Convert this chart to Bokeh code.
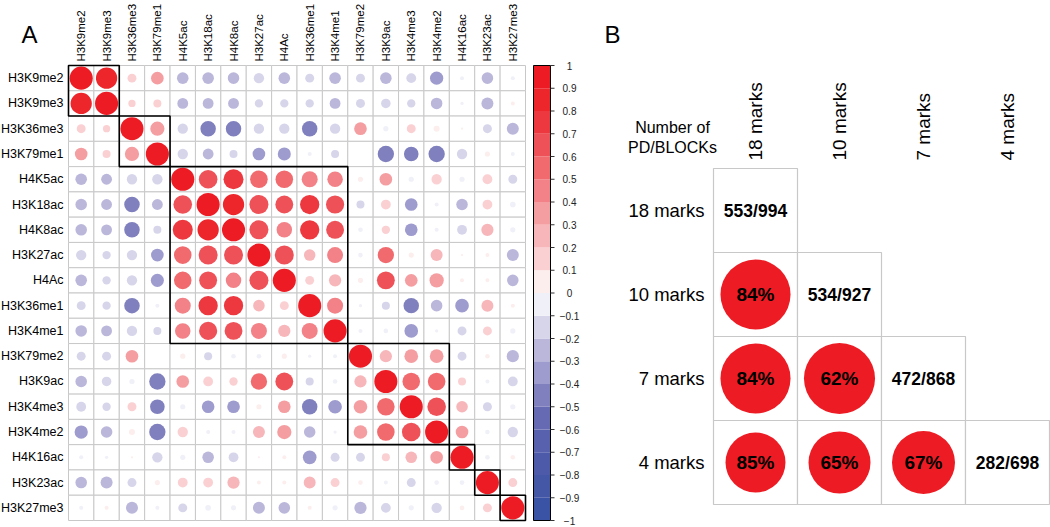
import math
from bokeh.plotting import figure
from bokeh.models import Range1d, ColumnDataSource
from bokeh.transform import linear_cmap
from bokeh.layouts import row
from bokeh.core.properties import value
from bokeh.embed import file_html
from bokeh.resources import INLINE

# ---------------- data ----------------
marks = ["H3K9me2", "H3K9me3", "H3K36me3", "H3K79me1", "H4K5ac", "H3K18ac", "H4K8ac",
         "H3K27ac", "H4Ac", "H3K36me1", "H3K4me1", "H3K79me2", "H3K9ac", "H3K4me3",
         "H3K4me2", "H4K16ac", "H3K23ac", "H3K27me3"]

corr = [
    [1, 0.85, 0.15, 0.3, -0.25, -0.25, -0.25, -0.2, -0.25, -0.15, -0.25, -0.15, -0.25, -0.18, -0.33, -0.03, -0.25, -0.03],
    [0.85, 1, 0.1, 0.12, -0.22, -0.22, -0.22, -0.13, -0.13, -0.13, -0.22, -0.15, -0.17, -0.13, -0.25, -0.02, -0.27, 0.03],
    [0.15, 0.1, 1, 0.38, -0.2, -0.45, -0.45, -0.2, -0.2, -0.45, -0.2, 0.3, -0.05, 0.15, 0.07, 0.01, -0.15, -0.27],
    [0.3, 0.12, 0.38, 1, -0.2, -0.22, -0.12, -0.3, -0.32, -0.03, -0.12, 0.0, -0.5, -0.4, -0.5, -0.2, 0.05, -0.03],
    [-0.25, -0.22, -0.2, -0.2, 1, 0.65, 0.75, 0.58, 0.58, 0.48, 0.45, 0.05, 0.3, -0.05, 0.2, -0.05, 0.18, -0.15],
    [-0.25, -0.22, -0.45, -0.22, 0.65, 1, 0.85, 0.68, 0.6, 0.7, 0.62, -0.12, 0.18, -0.3, -0.03, -0.25, 0.18, -0.06],
    [-0.25, -0.22, -0.45, -0.12, 0.75, 0.85, 1, 0.68, 0.45, 0.7, 0.6, -0.04, 0.13, -0.3, -0.03, -0.18, 0.28, -0.05],
    [-0.2, -0.13, -0.2, -0.3, 0.58, 0.68, 0.68, 1, 0.68, 0.25, 0.48, -0.04, 0.5, 0.05, 0.27, 0.01, 0.03, -0.27],
    [-0.25, -0.13, -0.2, -0.32, 0.58, 0.6, 0.45, 0.68, 1, 0.15, 0.28, 0.05, 0.6, 0.3, 0.38, 0.03, 0.03, -0.25],
    [-0.15, -0.13, -0.45, -0.03, 0.48, 0.7, 0.7, 0.25, 0.15, 1, 0.48, -0.02, -0.12, -0.45, -0.25, -0.35, 0.27, 0.03],
    [-0.25, -0.22, -0.2, -0.12, 0.45, 0.62, 0.6, 0.48, 0.28, 0.48, 1, -0.03, -0.04, -0.35, -0.02, -0.15, 0.15, -0.05],
    [-0.15, -0.15, 0.3, 0.0, 0.05, -0.12, -0.04, -0.04, 0.05, -0.02, -0.03, 1, 0.28, 0.35, 0.35, -0.15, 0.04, -0.28],
    [-0.25, -0.17, -0.05, -0.5, 0.3, 0.18, 0.13, 0.5, 0.6, -0.12, -0.04, 0.28, 1, 0.58, 0.58, 0.12, -0.03, -0.18],
    [-0.18, -0.13, 0.15, -0.4, -0.05, -0.3, -0.3, 0.05, 0.3, -0.45, -0.35, 0.35, 0.58, 1, 0.65, 0.25, -0.15, -0.05],
    [-0.33, -0.25, 0.07, -0.5, 0.2, -0.03, -0.03, 0.27, 0.38, -0.25, -0.02, 0.35, 0.58, 0.65, 1, 0.3, -0.04, -0.2],
    [-0.03, -0.02, 0.01, -0.2, -0.05, -0.25, -0.18, 0.01, 0.03, -0.35, -0.15, -0.15, 0.12, 0.25, 0.3, 1, -0.04, 0.04],
    [-0.25, -0.27, -0.15, 0.05, 0.18, 0.18, 0.28, 0.03, 0.03, 0.27, 0.15, 0.04, -0.03, -0.15, -0.04, -0.04, 1, 0.15],
    [-0.03, 0.03, -0.27, -0.03, -0.15, -0.06, -0.05, -0.27, -0.25, 0.03, -0.05, -0.28, -0.18, -0.05, -0.2, 0.04, 0.15, 1],
]

clusters = [
    ["H3K9me2", "H3K9me3"],
    ["H3K36me3", "H3K79me1"],
    ["H4K5ac", "H3K18ac", "H4K8ac", "H3K27ac", "H4Ac", "H3K36me1", "H3K4me1"],
    ["H3K79me2", "H3K9ac", "H3K4me3", "H3K4me2"],
    ["H4K16ac"],
    ["H3K23ac"],
    ["H3K27me3"],
]

cb_ticks = [round(-1 + 0.1 * i, 1) for i in range(21)]

b_marks = ["18 marks", "10 marks", "7 marks", "4 marks"]
b_counts = ["553/994", "534/927", "472/868", "282/698"]
# overlap percentages, lower triangle: (row, column, percent)
b_rows = ["10 marks", "7 marks", "7 marks", "4 marks", "4 marks", "4 marks"]
b_cols = ["18 marks", "18 marks", "10 marks", "18 marks", "10 marks", "7 marks"]
b_pct = [84, 84, 62, 85, 65, 67]

# ---------------- style ----------------
FONT = value("Liberation Sans")
palette = ["#3B53A4", "#4456A6", "#4C5AA9", "#5861AD", "#666AB2", "#8080BE", "#9E9CCE",
           "#BAB7DB", "#D6D5EA", "#F0F0F8", "#FDEEEE", "#FAD0D3", "#F7B6BA", "#F59EA2",
           "#F28287", "#F06A6E", "#EE5258", "#EC383E", "#ED262C", "#ED1C24"]
b_radius = [0.417, 0.417, 0.423, 0.357, 0.369, 0.375]
GRID_COLOR = "#c8c8c8"
H = 527

# ================= panel A =================
n = len(marks)
WA = 590
GL, GT = 68, 65            # grid left / top inside the canvas (px)
cw = 457 / n               # cell width (px)
ch = 455 / n               # cell height (px)
px = lambda v: (v - GL) / cw   # canvas px -> x data (cells)
py = lambda v: (v - GT) / ch   # canvas px -> y data (cells)

pA = figure(width=WA, height=H, x_range=Range1d(px(0), px(WA)), y_range=Range1d(py(H), py(0)),
            x_axis_type=None, y_axis_type=None, output_backend="svg",
            toolbar_location=None, tools="", min_border=0)
pA.grid.visible = False
pA.outline_line_color = None
pA.background_fill_color = "white"
pA.border_fill_color = "white"

# cell grid
gx = [j + 0.5 for i in range(n) for j in range(n)]
gy = [i + 0.5 for i in range(n) for j in range(n)]
pA.rect(x=gx, y=gy, width=1, height=1, fill_color="white", line_color=GRID_COLOR, line_width=1)

# circles
xs, ys, rs, rad = [], [], [], []
for i in range(n):
    for j in range(n):
        r = corr[i][j]
        xs.append(j + 0.5); ys.append(i + 0.5); rs.append(r)
        rad.append(0.455 * math.sqrt(abs(r)))
srcA = ColumnDataSource(dict(x=xs, y=ys, r=rs, rad=rad))
pA.circle(x="x", y="y", radius="rad", source=srcA,
          fill_color=linear_cmap("r", palette, -1, 1), line_color=None)

# cluster boxes
left, right, top, bottom = [], [], [], []
for cl in clusters:
    s = marks.index(cl[0]); e = marks.index(cl[-1]) + 1
    left.append(s); right.append(e); top.append(s); bottom.append(e)
pA.quad(left=left, right=right, top=top, bottom=bottom, fill_color=None,
        line_color="black", line_width=1.6)

# row / column labels
pA.text(x=[px(GL - 5)] * n, y=[i + 0.5 for i in range(n)], text=marks, text_font=FONT,
        text_font_size="12.5px", text_color="black", text_align="right", text_baseline="middle")
pA.text(x=[j + 0.5 for j in range(n)], y=[py(GT - 4)] * n, text=marks, angle=math.pi / 2,
        text_font=FONT, text_font_size="11.5px", text_color="black",
        text_align="left", text_baseline="middle")
pA.text(x=[px(21)], y=[py(33.5)], text=["A"], text_font=FONT, text_font_size="24px",
        text_color="black", text_align="left", text_baseline="middle")

# colour legend on its own value range (-1 at grid bottom, +1 at grid top)
pA.extra_y_ranges = {"cb": Range1d(1 - 2 * py(H) / n, 1 - 2 * py(0) / n)}
edges = [round(-1 + 0.1 * k, 1) for k in range(len(palette) + 1)]
cbl, cbr = px(533), px(550)
pA.quad(left=cbl, right=cbr, bottom=edges[:-1], top=edges[1:], fill_color=palette,
        line_color=None, y_range_name="cb")
pA.quad(left=[cbl], right=[cbr], bottom=[-1], top=[1], fill_color=None,
        line_color="black", line_width=1, y_range_name="cb")
pA.segment(x0=cbr, x1=px(554), y0=cb_ticks, y1=cb_ticks, line_color="#333333",
           line_width=1, y_range_name="cb")
cb_labels = [("\u2212" + format(abs(t), "g")) if t < 0 else format(t, "g") for t in cb_ticks]
pA.text(x=px(569), y=cb_ticks, text=cb_labels, text_font=FONT, text_font_size="10px",
        text_color="#222222", text_align="center", text_baseline="middle", y_range_name="cb")

# ================= panel B =================
WB = 460
OFF = WA                       # panel B starts at this canvas x
BL, BT, BC = 713 - OFF, 168, 84  # grid left / top (px) and cell size (px)
bx = lambda v: (v - BL) / BC
by = lambda v: (v - BT) / BC
k = len(b_marks)

pB = figure(width=WB, height=H, x_range=Range1d(bx(0), bx(WB)), y_range=Range1d(by(H), by(0)),
            x_axis_type=None, y_axis_type=None, output_backend="svg",
            toolbar_location=None, tools="", min_border=0)
pB.grid.visible = False
pB.outline_line_color = None
pB.background_fill_color = "white"
pB.border_fill_color = "white"

cl_, cr_, ct_, cb_ = [], [], [], []
for i in range(k):
    for j in range(i + 1):
        cl_.append(j); cr_.append(j + 1); ct_.append(i); cb_.append(i + 1)
pB.quad(left=cl_, right=cr_, top=ct_, bottom=cb_, fill_color="white",
        line_color=GRID_COLOR, line_width=1.2)

pcx = [b_marks.index(c) + 0.5 for c in b_cols]
pcy = [b_marks.index(r) + 0.5 for r in b_rows]
pB.circle(x=pcx, y=pcy, radius=b_radius, fill_color="#ED1C24", line_color=None)
pB.text(x=pcx, y=pcy, text=[f"{p}%" for p in b_pct], text_font=FONT,
        text_font_size="19px", text_font_style="bold", text_color="black",
        text_align="center", text_baseline="middle")
pB.text(x=[i + 0.5 for i in range(k)], y=[i + 0.5 for i in range(k)], text=b_counts,
        text_font=FONT, text_font_size="17.5px", text_font_style="bold", text_color="black",
        text_align="center", text_baseline="middle")

# headers
pB.text(x=[bx(704 - OFF)] * k, y=[i + 0.5 for i in range(k)], text=b_marks, text_font=FONT,
        text_font_size="18.5px", text_color="black", text_align="right", text_baseline="middle")
pB.text(x=[j + 0.5 for j in range(k)], y=[by(BT - 8)] * k, text=b_marks, angle=math.pi / 2,
        text_font=FONT, text_font_size="19px", text_color="black",
        text_align="left", text_baseline="middle")
pB.text(x=[bx(672 - OFF)] * 2, y=[by(127), by(147)], text=["Number of", "PD/BLOCKs"],
        text_font=FONT, text_font_size="16px", text_color="black",
        text_align="center", text_baseline="middle")
pB.text(x=[bx(604 - OFF)], y=[by(33.5)], text=["B"], text_font=FONT, text_font_size="24px",
        text_color="black", text_align="left", text_baseline="middle")

layout = row(pA, pB)
open("out.html", "w").write(file_html(layout, INLINE))
